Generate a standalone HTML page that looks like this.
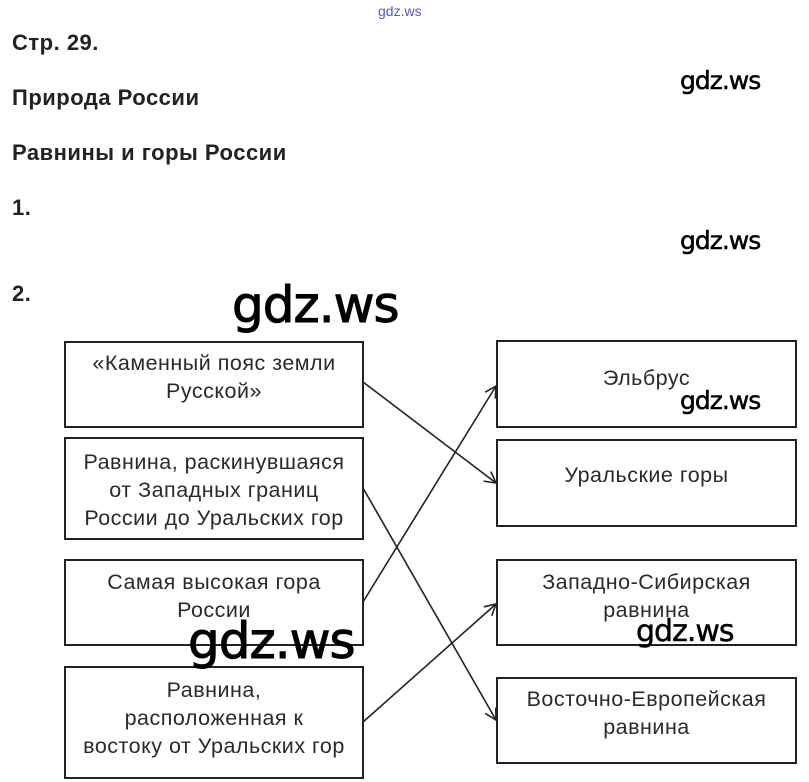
<!DOCTYPE html>
<html><head><meta charset="utf-8"><style>
body{margin:0;width:809px;height:782px;background:#fff;position:relative;overflow:hidden;font-family:"Liberation Sans",sans-serif}
.h{position:absolute;left:12px;font-weight:bold;font-size:22px;letter-spacing:0.5px;color:#222}
.box{position:absolute;border:2px solid #222;box-sizing:border-box;text-align:center;font-size:21.5px;letter-spacing:0.5px;line-height:28px;color:#2a2a2a;white-space:nowrap}
.wm{position:absolute;font-family:"DejaVu Sans",sans-serif;color:#000;letter-spacing:-1px;-webkit-text-stroke:0.5px #000}
</style></head><body>
<div class="wm" style="left:378px;top:3px;font-size:14px;color:#55c;font-family:'Liberation Sans',sans-serif;letter-spacing:0;-webkit-text-stroke:0">gdz.ws</div>
<div class="h" style="top:30px">Стр. 29.</div>
<div class="h" style="top:85px">Природа России</div>
<div class="h" style="top:140px">Равнины и горы России</div>
<div class="h" style="top:195px">1.</div>
<div class="h" style="top:281px">2.</div>
<div class="wm" style="left:680px;top:66px;font-size:25px">gdz.ws</div>
<div class="wm" style="left:680px;top:226px;font-size:25px">gdz.ws</div>

<div class="box" style="left:64px;top:341px;width:300px;height:87px;padding-top:6px">«Каменный пояс земли<br>Русской»</div>
<div class="box" style="left:64px;top:437px;width:300px;height:103px;padding-top:9px">Равнина, раскинувшаяся<br>от Западных границ<br>России до Уральских гор</div>
<div class="box" style="left:64px;top:559px;width:300px;height:87px;padding-top:7px">Самая высокая гора<br>России</div>
<div class="box" style="left:64px;top:666px;width:300px;height:113px;padding-top:8px">Равнина,<br>расположенная к<br>востоку от Уральских гор</div>

<div class="box" style="left:496px;top:340px;width:301px;height:88px;padding-top:22px">Эльбрус</div>
<div class="box" style="left:496px;top:439px;width:301px;height:88px;padding-top:20px">Уральские горы</div>
<div class="box" style="left:496px;top:559px;width:301px;height:87px;padding-top:7px">Западно-Сибирская<br>равнина</div>
<div class="box" style="left:496px;top:677px;width:301px;height:87px;padding-top:6px">Восточно-Европейская<br>равнина</div>

<svg width="809" height="782" style="position:absolute;left:0;top:0">
<defs><marker id="a" markerWidth="14" markerHeight="14" refX="12" refY="7" orient="auto" markerUnits="userSpaceOnUse"><path d="M1,1 L12,7 L1,13" fill="none" stroke="#222" stroke-width="1.6"/></marker></defs>
<g stroke="#222" stroke-width="1.6" fill="none" marker-end="url(#a)">
<line x1="363" y1="382" x2="496" y2="483"/>
<line x1="363" y1="488" x2="496" y2="720"/>
<line x1="363" y1="602" x2="496" y2="386"/>
<line x1="363" y1="722" x2="496" y2="604"/>
</g></svg>
<div class="wm" style="left:232px;top:276px;font-size:50px;-webkit-text-stroke:1px #000">gdz.ws</div>
<div class="wm" style="left:188px;top:612px;font-size:50px;-webkit-text-stroke:1px #000">gdz.ws</div>
<div class="wm" style="left:680px;top:386px;font-size:25px">gdz.ws</div>
<div class="wm" style="left:636px;top:614px;font-size:30px">gdz.ws</div>
</body></html>
